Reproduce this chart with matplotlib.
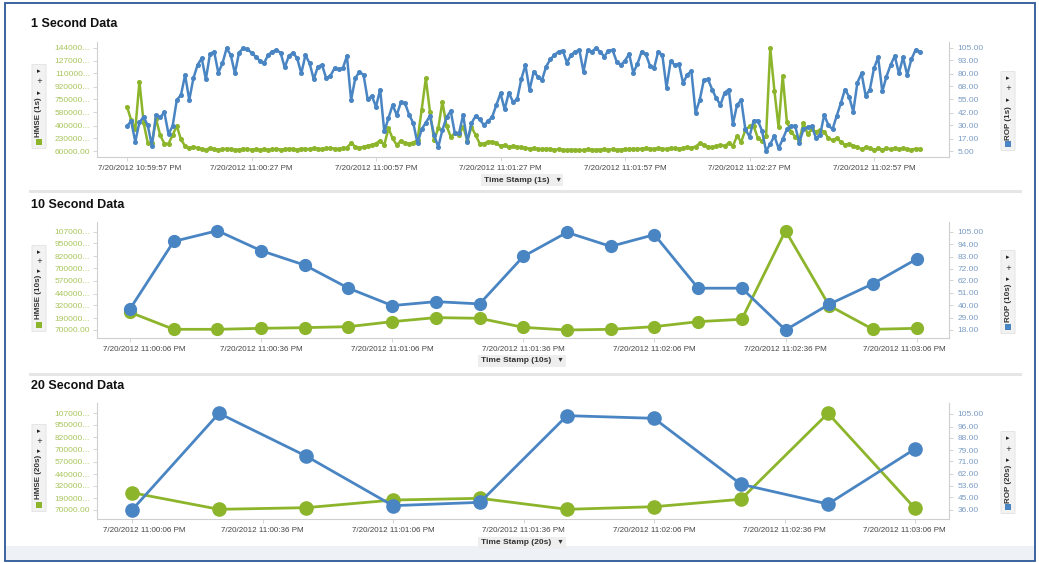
import numpy as np
import pandas as pd
import matplotlib
matplotlib.use("Agg")
import matplotlib.pyplot as plt
import matplotlib.dates as mdates
from matplotlib.patches import Rectangle, FancyBboxPatch
from matplotlib.transforms import ScaledTranslation

plt.rcParams['font.family'] = ['Liberation Sans', 'DejaVu Sans']

# ---------------- DATA ----------------
start_1s = '2012-07-20 22:59:57'
rop_1s = [29.3, 34, 14, 33, 38, 30, 10, 40, 37.6, 42.6, 21.5, 29.3, 54.5, 59.4, 78.8, 54.5,
          75.6, 88.5, 95, 74.6, 99.2, 101.5, 81, 90.1, 104.7, 98.2, 80.4, 100.5, 104.7, 103.7,
          100.5, 96.6, 92.7, 90.1, 98.2, 101.5, 103, 100.5, 86.2, 97.2, 100.5, 95, 80.4, 98.2,
          90.1, 74.6, 87, 88.5, 75.6, 77.9, 85.3, 84.3, 85.3, 97.2, 54.5, 75.6, 82, 78.8, 55,
          58.4, 48, 64.7, 24, 36.7, 49.7, 40, 52.3, 51.3, 40, 31.9, 12.4, 26, 32.5, 39, 20.5,
          8.8, 25.4, 37.6, 43.8, 22.2, 22.2, 40, 14, 31.9, 39, 35.7, 30.2, 34, 38.2, 49.7, 61,
          45.4, 61.6, 52.8, 55, 74.6, 88.5, 64.2, 82, 77.2, 73.9, 87, 94, 98.2, 101.5, 102.5,
          90.8, 98.2, 101.5, 103, 82, 103, 101.5, 104.7, 101.5, 96.6, 102.5, 103, 91.7, 88.5,
          92.7, 99.2, 81, 89.5, 101.5, 99.2, 88, 85.3, 101.5, 98.2, 66.6, 92.2, 88.5, 89.5,
          70.8, 79.2, 82.5, 42.2, 54.5, 73.9, 74.6, 64.7, 56.2, 49.7, 61.6, 64.7, 31.2, 49.7,
          54.5, 26, 19, 34.5, 34.5, 24.8, 5, 11.8, 19.6, 7.6, 16.4, 26, 29.3, 29.3, 13.2, 26,
          28, 29.3, 17.6, 20.5, 40, 30.2, 26, 39, 51.3, 64.7, 57.8, 43.2, 71.4, 80.4, 58.4,
          64.7, 85.3, 95.9, 62.8, 77.2, 88.5, 97.2, 80.4, 95.9, 78.8, 94, 103, 101.5]
# HMSE (1s) in thousands
hmse_1s_k = [654, 475, 350, 990, 440, 170, 165, 490, 270, 160, 158, 274, 395, 215, 125, 96,
             118, 100, 85, 80, 95, 88, 78, 82, 92, 85, 76, 80, 90, 84, 78, 82, 80, 86, 78, 82,
             88, 80, 84, 90, 86, 80, 92, 88, 84, 96, 90, 86, 94, 100, 92, 88, 96, 104, 165, 120,
             100, 118, 130, 140, 160, 200, 140, 364, 230, 140, 198, 163, 159, 172, 207, 609,
             1034, 587, 207, 364, 721, 395, 252, 297, 274, 388, 198, 382, 274, 159, 160, 185,
             185, 163, 127, 140, 109, 127, 118, 109, 100, 92, 96, 88, 84, 90, 86, 78, 82, 76,
             72, 78, 74, 70, 76, 82, 78, 74, 80, 84, 78, 82, 76, 80, 86, 82, 90, 86, 92, 96, 90,
             86, 96, 92, 88, 100, 94, 90, 98, 110, 104, 118, 163, 140, 118, 109, 125, 140, 130,
             163, 127, 261, 183, 340, 390, 395, 234, 190, 261, 1436, 868, 380, 1070, 453, 319,
             252, 207, 431, 288, 350, 319, 341, 319, 230, 207, 230, 185, 140, 159, 127, 118, 82,
             109, 96, 74, 96, 80, 96, 84, 94, 84, 96, 82, 76, 92, 84]

start_10s = '2012-07-20 23:00:06'
rop_10s = [36.6, 96.4, 105.9, 88.2, 75.4, 55.0, 39.6, 43.1, 41.1, 83.1, 104.4, 92.0, 102.4,
           55.0, 55.0, 18.0, 40.8, 58.9, 80.8]
hmse_10s = [250000, 77000, 77000, 87000, 94000, 104000, 155000, 196000, 189000, 97000, 70000,
            77000, 104000, 155000, 179000, 1080000, 318000, 77000, 87000]

start_20s = '2012-07-20 23:00:06'
rop_20s = [36.0, 105.5, 74.8, 39.1, 41.5, 103.8, 101.9, 54.5, 40.3, 79.9]
hmse_20s = [249000, 77000, 94000, 173000, 191000, 77000, 104000, 181000, 1070000, 87000]

xlabels_1s = ['7/20/2012 10:59:57 PM', '7/20/2012 11:00:27 PM', '7/20/2012 11:00:57 PM',
              '7/20/2012 11:01:27 PM', '7/20/2012 11:01:57 PM', '7/20/2012 11:02:27 PM',
              '7/20/2012 11:02:57 PM']
xlabels_10s = ['7/20/2012 11:00:06 PM', '7/20/2012 11:00:36 PM', '7/20/2012 11:01:06 PM',
               '7/20/2012 11:01:36 PM', '7/20/2012 11:02:06 PM', '7/20/2012 11:02:36 PM',
               '7/20/2012 11:03:06 PM']
xlabels_20s = xlabels_10s

lt_1s_vals = [60000, 230000, 400000, 580000, 750000, 920000, 1100000, 1270000, 1440000]
lt_1s_lbls = ['60000.00', '230000...', '400000...', '580000...', '750000...', '920000...',
              '110000...', '127000...', '144000...']
rt_1s_vals = [5, 17, 30, 42, 55, 68, 80, 93, 105]
lt_10s_vals = [70000, 190000, 320000, 440000, 570000, 700000, 820000, 950000, 1070000]
lt_10s_lbls = ['70000.00', '190000...', '320000...', '440000...', '570000...', '700000...',
               '820000...', '950000...', '107000...']
rt_10s_vals = [18, 29, 40, 51, 62, 72, 83, 94, 105]
lt_20s_vals = lt_10s_vals
lt_20s_lbls = lt_10s_lbls
rt_20s_vals = [36, 45, 53.6, 62, 71, 79, 88, 96, 105]

# ---------------- STYLE / LAYOUT ----------------
W, H = 1039, 563
BLUE = '#4a85c3'
GREEN = '#8db52c'
GREEN_TXT = '#a9c55c'
BLUE_TXT = '#7a9cc4'
AXC = '#cfcfcf'

fig = plt.figure(figsize=(W / 100, H / 100), dpi=100)
fig.patch.set_facecolor('white')


def px_rect(x0, y0, x1, y1):
    return [x0 / W, 1 - y1 / H, (x1 - x0) / W, (y1 - y0) / H]


# outer frame and panel separators
fig.add_artist(Rectangle((5 / W, 1 - 561 / H), 1030 / W, 558 / H, transform=fig.transFigure,
                         fill=False, ec='#2b5797', lw=1.3))
fig.add_artist(Rectangle((6 / W, 1 - 560 / H), 1028 / W, 14 / H, transform=fig.transFigure,
                         fc='#eef2f7', ec='none'))
for yy in (191.5, 374.5):
    fig.add_artist(Rectangle((29 / W, 1 - (yy + 1.5) / H), 993 / W, 3 / H,
                             transform=fig.transFigure, fc='#e6e6e6', ec='none'))

panels = [
    dict(title='1 Second Data', title_y=24, box=(97, 42, 949, 157),
         start=start_1s, freq='1s', rop=rop_1s, hmse=[v * 1000 for v in hmse_1s_k],
         px0=127, pps=4.15, xlabels=xlabels_1s, xoff=(13, 0),
         lmap=(1440000, 48, 60000, 151), rmap=(105, 48, 5, 151),
         lt=lt_1s_vals, ltl=lt_1s_lbls, rt=rt_1s_vals,
         lw=1.8, ms=2.6, xlab='Time Stamp (1s)', xlab_y=180,
         lname='HMSE (1s)', rname='ROP (1s)',
         licons=(71, 81, 93), ltext=117, lsq=142, ricons=(78, 88, 100), rtext=123, rsq=144),
    dict(title='10 Second Data', title_y=205, box=(97, 222, 949, 338),
         start=start_10s, freq='10s', rop=rop_10s, hmse=hmse_10s,
         px0=130, pps=4.37, xlabels=xlabels_10s, xoff=(14, -12),
         lmap=(1070000, 231.7, 70000, 330), rmap=(105, 231.7, 18, 330),
         lt=lt_10s_vals, ltl=lt_10s_lbls, rt=rt_10s_vals,
         lw=2.0, ms=8.5, xlab='Time Stamp (10s)', xlab_y=361,
         lname='HMSE (10s)', rname='ROP (10s)',
         licons=(252, 261, 271), ltext=297, lsq=325, ricons=(257, 268, 279), rtext=303, rsq=327),
    dict(title='20 Second Data', title_y=386, box=(97, 403, 949, 519),
         start=start_20s, freq='20s', rop=rop_20s, hmse=hmse_20s,
         px0=132, pps=4.35, xlabels=xlabels_20s, xoff=(12, -11),
         lmap=(1070000, 413.3, 70000, 510), rmap=(105, 414, 36, 510),
         lt=lt_20s_vals, ltl=lt_20s_lbls, rt=rt_20s_vals,
         lw=2.0, ms=9.5, xlab='Time Stamp (20s)', xlab_y=543,
         lname='HMSE (20s)', rname='ROP (20s)',
         licons=(431, 441, 451), ltext=477, lsq=505, ricons=(438, 449, 460), rtext=484, rsq=507),
]


def lim_from_map(m, y0, y1):
    vt, pt, vb, pb = m
    s = (vt - vb) / (pb - pt)
    return vb - (y1 - pb) * s, vt + (pt - y0) * s


def side_box(xc, icons, text_y, sq_y, label, color):
    top = icons[0] - 6
    bot = sq_y + 6
    fig.add_artist(FancyBboxPatch(((xc - 6) / W, 1 - bot / H), 12 / W, (bot - top) / H,
                                  boxstyle='round,pad=0.001', transform=fig.transFigure,
                                  fc='#f2f2f2', ec='#e2e2e2', lw=0.6))
    for yy, ch in zip(icons, ['▸', '+', '▸']):
        fig.text(xc / W, 1 - yy / H, ch, fontsize=5, ha='center', va='center',
                 color='#222222', family=['DejaVu Sans'])
    fig.text(xc / W, 1 - text_y / H, label, fontsize=5.8, fontweight='bold', rotation=90,
             ha='center', va='center', color='#333333')
    fig.add_artist(Rectangle(((xc - 3) / W, 1 - (sq_y + 3) / H), 6 / W, 6 / H,
                             transform=fig.transFigure, fc=color, ec='none'))


for p in panels:
    x0, y0, x1, y1 = p['box']
    ax = fig.add_axes(px_rect(x0, y0, x1, y1))
    ax2 = ax.twinx()
    idx = pd.date_range(p['start'], periods=len(p['rop']), freq=p['freq'])
    xs = mdates.date2num(idx.to_pydatetime())
    t0 = xs[0]
    ax.set_xlim(t0 - (p['px0'] - x0) / p['pps'] / 86400, t0 + (x1 - p['px0']) / p['pps'] / 86400)

    ax.plot(xs, p['hmse'], color=GREEN, lw=p['lw'], marker='o', ms=p['ms'],
            mfc=GREEN, mec=GREEN, solid_joinstyle='round', zorder=3)
    ax2.plot(xs, p['rop'], color=BLUE, lw=p['lw'], marker='o', ms=p['ms'],
             mfc=BLUE, mec=BLUE, solid_joinstyle='round', zorder=3)

    ax.set_ylim(*lim_from_map(p['lmap'], y0, y1))
    ax2.set_ylim(*lim_from_map(p['rmap'], y0, y1))

    ax.set_yticks(p['lt'])
    ax.set_yticklabels(p['ltl'])
    ax2.set_yticks(p['rt'])
    ax2.set_yticklabels(['%.2f' % v for v in p['rt']])

    xticks = [t0 + 30 * k / 86400 for k in range(len(p['xlabels']))]
    ax.set_xticks(xticks)
    ax.set_xticklabels(p['xlabels'])

    for a in (ax, ax2):
        for s in a.spines.values():
            s.set_color(AXC)
            s.set_linewidth(0.8)
        a.spines['top'].set_visible(False)
    ax.spines['right'].set_visible(False)
    ax2.spines['left'].set_visible(False)
    ax2.spines['bottom'].set_visible(False)
    ax2.patch.set_visible(False)

    ax.tick_params(axis='y', color=AXC, labelcolor=GREEN_TXT, labelsize=6, length=3,
                   width=0.6, pad=2)
    ax2.tick_params(axis='y', color=AXC, labelcolor=BLUE_TXT, labelsize=6, length=3,
                    width=0.6, pad=3)
    ax.tick_params(axis='x', color=AXC, labelcolor='#444444', labelsize=5.8, length=3,
                   width=0.6, pad=3)

    labs = ax.get_xticklabels()
    dxf, dxl = p['xoff']
    if dxf:
        labs[0].set_transform(labs[0].get_transform() + ScaledTranslation(dxf / 100, 0, fig.dpi_scale_trans))
    if dxl:
        labs[-1].set_transform(labs[-1].get_transform() + ScaledTranslation(dxl / 100, 0, fig.dpi_scale_trans))

    fig.text(31 / W, 1 - p['title_y'] / H, p['title'], fontsize=9, fontweight='bold',
             ha='left', va='center', color='#111111')
    fig.text(522 / W, 1 - p['xlab_y'] / H, p['xlab'] + '   ▾', fontsize=6, fontweight='bold',
             ha='center', va='center', color='#333333',
             bbox=dict(boxstyle='square,pad=0.35', fc='#eeeeee', ec='none'))

    side_box(39, p['licons'], p['ltext'], p['lsq'], p['lname'], GREEN)
    side_box(1008, p['ricons'], p['rtext'], p['rsq'], p['rname'], BLUE)

fig.savefig('out.png', dpi=100)
